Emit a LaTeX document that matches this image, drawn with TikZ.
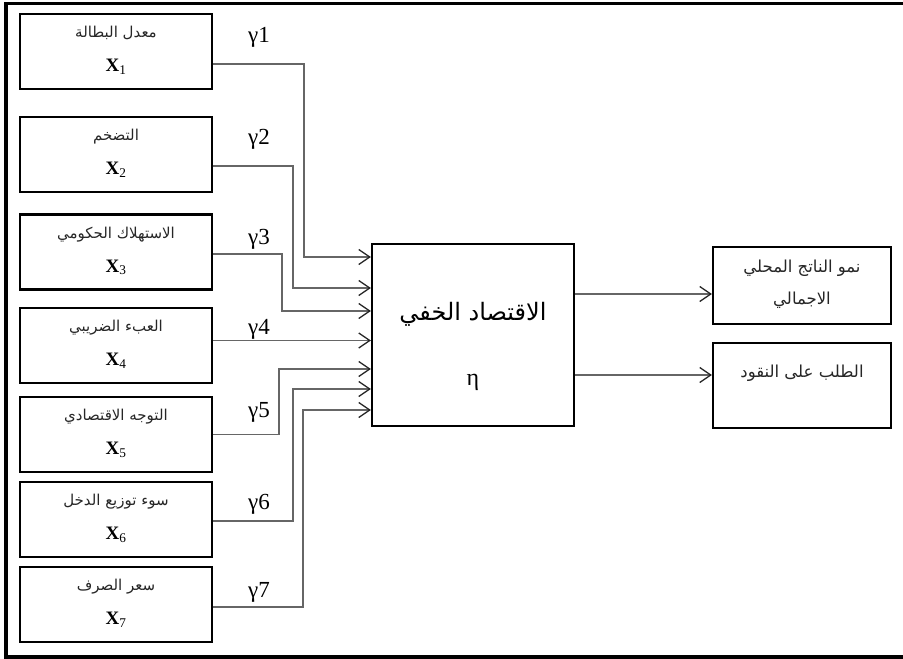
\documentclass[tikz,border=0pt]{standalone}
\usepackage{fontspec}
\setmainfont{Liberation Serif}
\newfontfamily\arabicfont[Script=Arabic]{DejaVu Sans}
\TeXXeTstate=1
\usetikzlibrary{arrows.meta,calc}
\begin{document}
\begin{tikzpicture}[x=1pt,y=-1pt,
  inbox/.style={draw=black,line width=2.2pt,minimum width=192pt,minimum height=75pt,inner sep=0pt},
  etabox/.style={draw=black,line width=2.2pt,minimum width=202pt,minimum height=182pt,inner sep=0pt},
  outbox/.style={draw=black,line width=2.2pt,minimum width=178pt,inner sep=0pt},
  ar/.style={font=\arabicfont\fontsize{15}{17}\selectfont,inner sep=0pt,text=black!85},
  arout/.style={font=\arabicfont\fontsize{16.5}{18}\selectfont,inner sep=0pt,text=black!85},
  xl/.style={font=\fontsize{19}{20}\selectfont,inner sep=0pt},
  gl/.style={font=\fontsize{23}{24}\selectfont,inner sep=0pt},
  conn/.style={draw=black!60,line width=1.4pt},
  arr/.style={conn,-{Straight Barb[length=11pt,width=15pt,line width=1.3pt,color=black!85]}},
  frame/.style={line width=3.5pt,draw=black}]
\useasboundingbox (0,0) rectangle (903,659);
\draw[frame] (903,3.5) -- (6,3.5) -- (6,657) -- (903,657);

% input boxes
\node[inbox] (b1) at (116,51.5) {};
\node[inbox] (b2) at (116,154.5) {};
\node[inbox] (b3) at (116,252) {};
\node[inbox] (b4) at (116,345.5) {};
\node[inbox] (b5) at (116,434.5) {};
\node[inbox] (b6) at (116,519.5) {};
\node[inbox] (b7) at (116,604.5) {};

\node[ar] (a1) at ([yshift=-20pt]b1.north) {\beginR معدل البطالة\endR};
\node[ar] (a2) at ([yshift=-21pt]b2.north) {\beginR التضخم\endR};
\node[ar] (a3) at ([yshift=-21pt]b3.north) {\beginR الاستهلاك الحكومي\endR};
\node[ar] (a4) at ([yshift=-21pt]b4.north) {\beginR العبء الضريبي\endR};
\node[ar] (a5) at ([yshift=-21pt]b5.north) {\beginR التوجه الاقتصادي\endR};
\node[ar] (a6) at ([yshift=-21pt]b6.north) {\beginR سوء توزيع الدخل\endR};
\node[ar] (a7) at ([yshift=-21pt]b7.north) {\beginR سعر الصرف\endR};

\node[xl] (x1) at ([yshift=-54pt]b1.north) {$\mathbf{X}_{\mathrm{1}}$};
\node[xl] (x2) at ([yshift=-54pt]b2.north) {$\mathbf{X}_{\mathrm{2}}$};
\node[xl] (x3) at ([yshift=-54pt]b3.north) {$\mathbf{X}_{\mathrm{3}}$};
\node[xl] (x4) at ([yshift=-54pt]b4.north) {$\mathbf{X}_{\mathrm{4}}$};
\node[xl] (x5) at ([yshift=-54pt]b5.north) {$\mathbf{X}_{\mathrm{5}}$};
\node[xl] (x6) at ([yshift=-54pt]b6.north) {$\mathbf{X}_{\mathrm{6}}$};
\node[xl] (x7) at ([yshift=-54pt]b7.north) {$\mathbf{X}_{\mathrm{7}}$};

% gamma labels
\node[gl] (g1) at (259,37) {γ1};
\node[gl] (g2) at (259,139) {γ2};
\node[gl] (g3) at (259,239) {γ3};
\node[gl] (g4) at (259,329) {γ4};
\node[gl] (g5) at (259,412) {γ5};
\node[gl] (g6) at (259,504) {γ6};
\node[gl] (g7) at (259,592) {γ7};

% latent box
\node[etabox] (eta) at (473,335) {};
\node[font=\arabicfont\fontsize{24}{26}\selectfont,inner sep=0pt] (etat) at (473,314) {\beginR الاقتصاد الخفي\endR};
\node[font=\fontsize{24}{26}\selectfont,inner sep=0pt] (etas) at (473,382) {η};

% output boxes
\node[outbox,minimum height=77pt] (o1) at (802,285.5) {};
\node[outbox,minimum height=85pt] (o2) at (802,385.5) {};
\node[arout] (o1a) at (802,268) {\beginR نمو الناتج المحلي\endR};
\node[arout] (o1b) at (802,300) {\beginR الاجمالي\endR};
\node[arout] (o2a) at (802,373) {\beginR الطلب على النقود\endR};

% bend coordinates
\coordinate (k1) at (304,257);
\coordinate (k2) at (293,288);
\coordinate (k3) at (282,311);
\coordinate (k5) at (279,369);
\coordinate (k6) at (293,389);
\coordinate (k7) at (303,410);

% connectors
\draw[arr] ([yshift=-12.5pt]b1.east) -| (k1) -- (k1 -| eta.west);
\draw[arr] ([yshift=-11.5pt]b2.east) -| (k2) -- (k2 -| eta.west);
\draw[arr] ([yshift=-2pt]b3.east) -| (k3) -- (k3 -| eta.west);
\draw[arr] ([yshift=5pt]b4.east) -- ([yshift=5pt]b4.east -| eta.west);
\draw[arr] (b5.east) -| (k5) -- (k5 -| eta.west);
\draw[arr] ([yshift=-1.5pt]b6.east) -| (k6) -- (k6 -| eta.west);
\draw[arr] ([yshift=-2.5pt]b7.east) -| (k7) -- (k7 -| eta.west);

\draw[arr] ([yshift=41pt]eta.east) -- ([yshift=41pt]eta.east -| o1.west);
\draw[arr] ([yshift=-40pt]eta.east) -- ([yshift=-40pt]eta.east -| o2.west);
\end{tikzpicture}
\end{document}
